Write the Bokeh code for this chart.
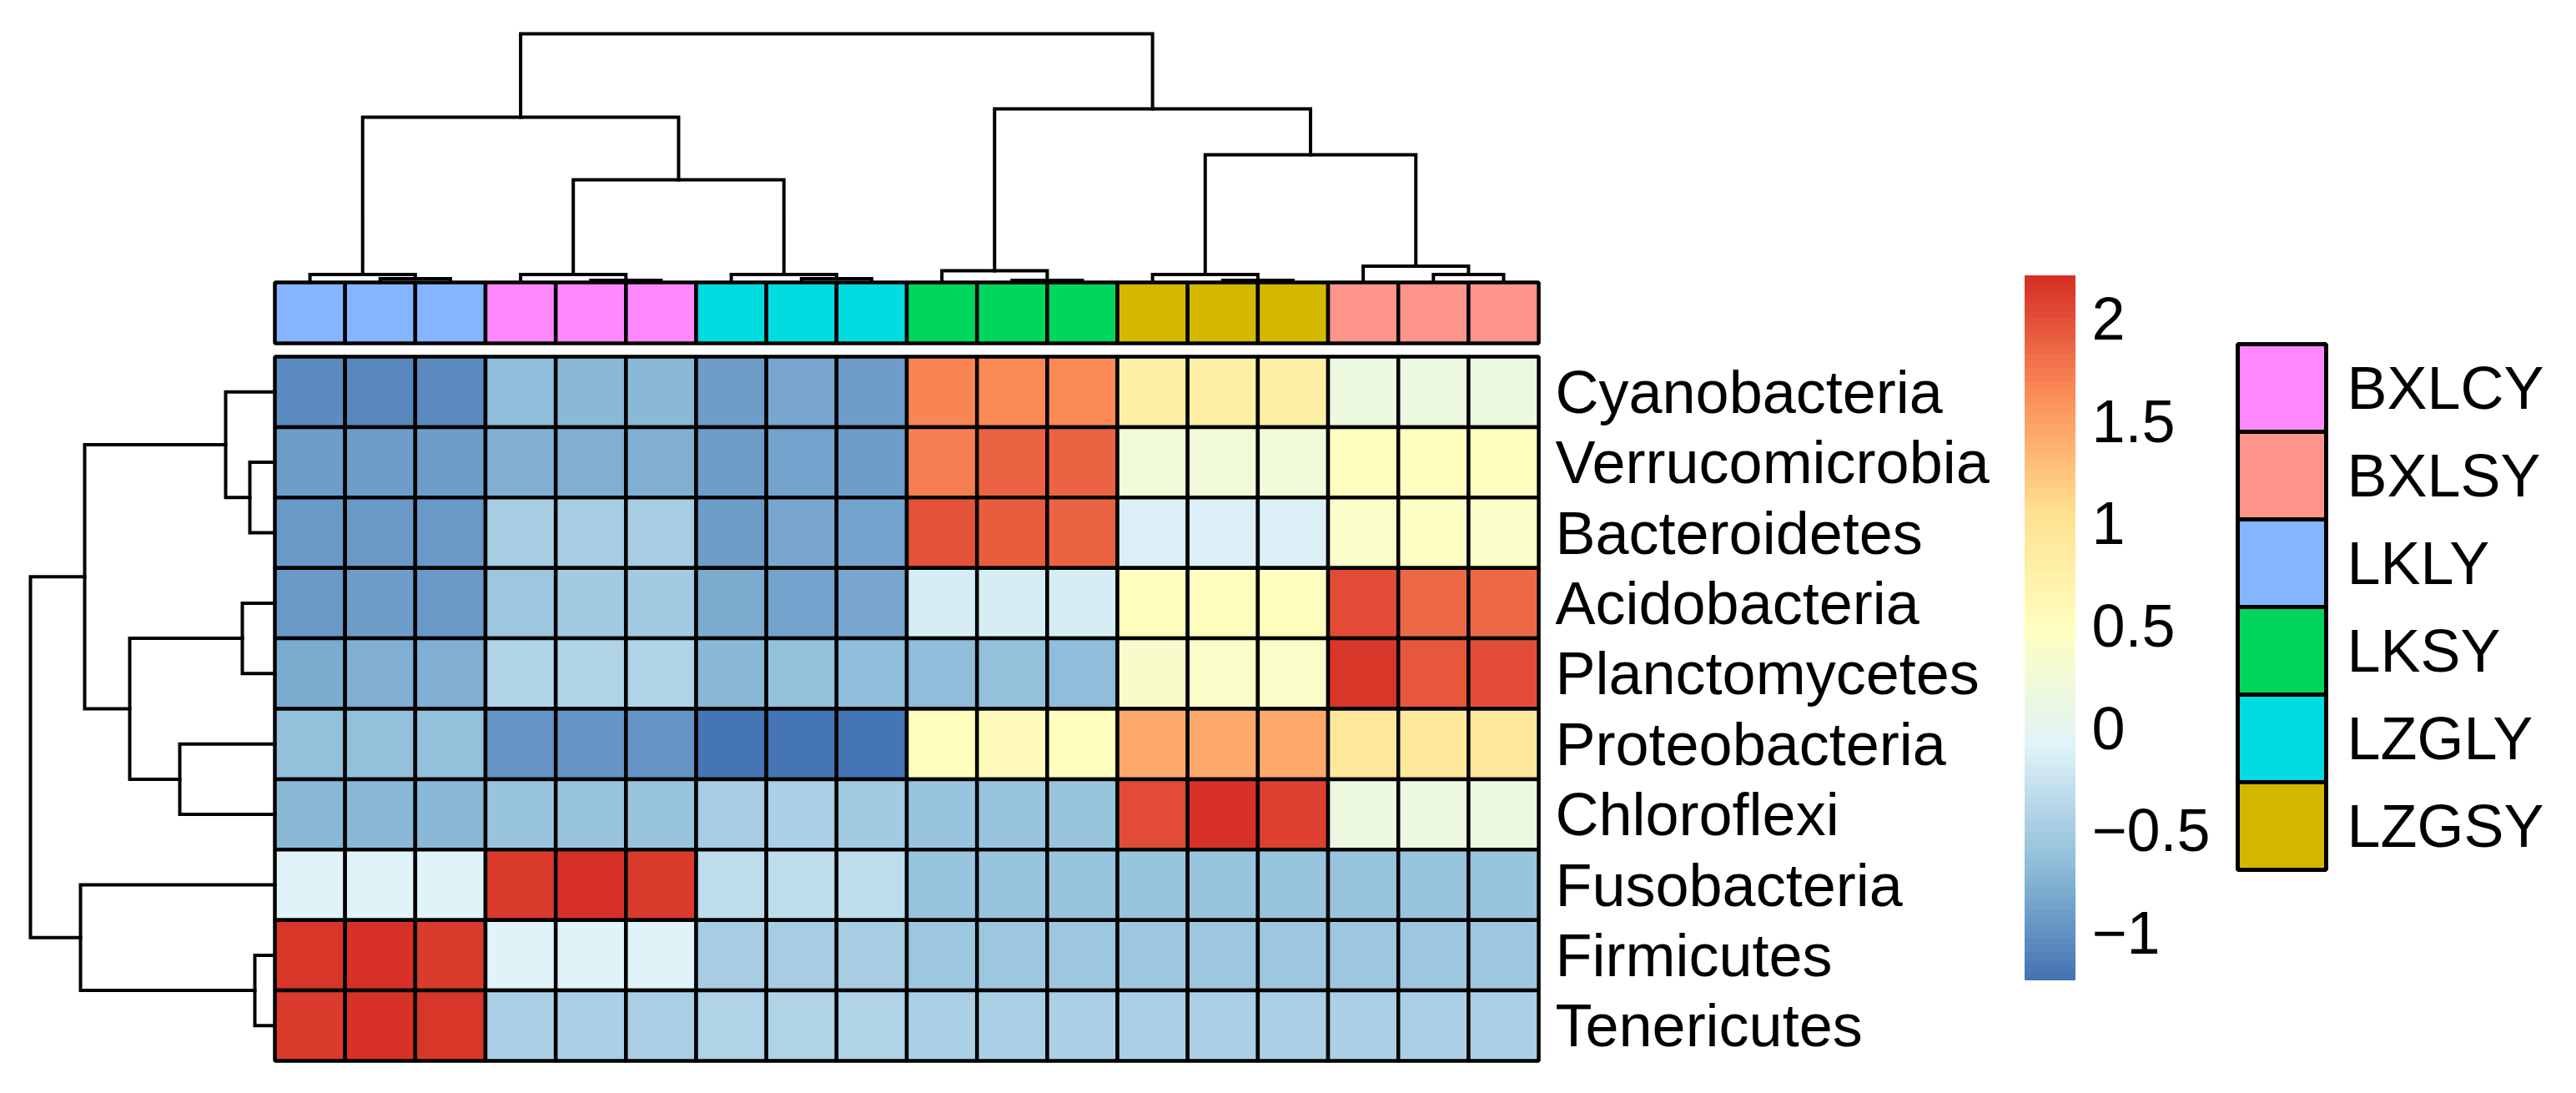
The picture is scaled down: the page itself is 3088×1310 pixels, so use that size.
import numpy as np
from bokeh.plotting import figure
from bokeh.models import Range1d, ColumnDataSource, LinearColorMapper
from bokeh.transform import transform
from bokeh.embed import file_html
from bokeh.resources import INLINE
from bokeh.core.properties import value

# ---------------- data ----------------
phyla = ["Cyanobacteria", "Verrucomicrobia", "Bacteroidetes", "Acidobacteria",
         "Planctomycetes", "Proteobacteria", "Chloroflexi", "Fusobacteria",
         "Firmicutes", "Tenericutes"]

col_groups = ["LKLY"] * 3 + ["BXLCY"] * 3 + ["LZGLY"] * 3 + ["LKSY"] * 3 + ["LZGSY"] * 3 + ["BXLSY"] * 3

group_levels = ["BXLCY", "BXLSY", "LKLY", "LKSY", "LZGLY", "LZGSY"]
group_colors = ["#FF88FF", "#FF948A", "#85B5FF", "#00D65C", "#00DCE0", "#D4B800"]

row_cyanobacteria = [-1.05, -1.06, -1.05, -0.66, -0.70, -0.70, -0.90, -0.82, -0.90, 1.68, 1.65, 1.65, 0.77, 0.77, 0.77, 0.18, 0.18, 0.18]
row_verrucomicrobia = [-0.92, -0.91, -0.92, -0.78, -0.76, -0.78, -0.90, -0.86, -0.92, 1.70, 1.88, 1.88, 0.24, 0.24, 0.24, 0.52, 0.52, 0.52]
row_bacteroidetes = [-0.95, -0.95, -0.94, -0.48, -0.48, -0.48, -0.90, -0.84, -0.87, 1.98, 1.92, 1.90, -0.10, -0.10, -0.10, 0.42, 0.43, 0.42]
row_acidobacteria = [-0.93, -0.92, -0.93, -0.55, -0.54, -0.53, -0.80, -0.86, -0.84, -0.16, -0.16, -0.16, 0.50, 0.50, 0.50, 2.02, 1.86, 1.86]
row_planctomycetes = [-0.79, -0.78, -0.77, -0.42, -0.42, -0.42, -0.68, -0.64, -0.67, -0.65, -0.64, -0.65, 0.38, 0.40, 0.40, 2.16, 1.96, 2.02]
row_proteobacteria = [-0.64, -0.64, -0.63, -0.97, -0.97, -0.96, -1.22, -1.23, -1.22, 0.52, 0.53, 0.52, 1.43, 1.43, 1.43, 0.92, 0.92, 0.91]
row_chloroflexi = [-0.71, -0.71, -0.70, -0.58, -0.58, -0.58, -0.50, -0.47, -0.52, -0.58, -0.59, -0.58, 2.02, 2.21, 2.08, 0.18, 0.18, 0.18]
row_fusobacteria = [-0.08, -0.08, -0.08, 2.12, 2.18, 2.14, -0.33, -0.33, -0.33, -0.60, -0.60, -0.60, -0.60, -0.60, -0.60, -0.60, -0.60, -0.60]
row_firmicutes = [2.16, 2.18, 2.12, -0.08, -0.08, -0.08, -0.48, -0.48, -0.48, -0.57, -0.57, -0.57, -0.57, -0.57, -0.57, -0.57, -0.57, -0.57]
row_tenericutes = [2.12, 2.20, 2.17, -0.45, -0.45, -0.45, -0.43, -0.42, -0.41, -0.45, -0.45, -0.45, -0.45, -0.45, -0.45, -0.45, -0.45, -0.45]

values = [row_cyanobacteria, row_verrucomicrobia, row_bacteroidetes, row_acidobacteria,
          row_planctomycetes, row_proteobacteria, row_chloroflexi, row_fusobacteria,
          row_firmicutes, row_tenericutes]

# hierarchical clustering merges (scipy convention: id < n is a leaf, id >= n is merge id-n)
col_merge_a = [1, 0, 4, 3, 7, 6, 10, 9, 13, 12, 16, 15, 21, 19, 27, 25, 31]
col_merge_b = [2, 18, 5, 20, 8, 22, 11, 24, 14, 26, 17, 28, 23, 30, 29, 32, 33]
col_merge_h = [0.07, 0.17, 0.03, 0.17, 0.07, 0.17, 0.03, 0.26, 0.03, 0.17, 0.17, 0.37, 2.44, 3.94, 3.04, 4.14, 5.94]

row_merge_a = [1, 0, 3, 5, 12, 11, 8, 7, 15]
row_merge_b = [2, 10, 4, 6, 13, 14, 9, 16, 17]
row_merge_h = [0.60, 1.18, 0.78, 2.28, 3.48, 4.56, 0.48, 4.66, 5.86]

legend_ticks = [2, 1.5, 1, 0.5, 0, -0.5, -1]
legend_tick_labels = ["2", "1.5", "1", "0.5", "0", "\u22120.5", "\u22121"]

ramp_anchors = ["#4575B4", "#91BFDB", "#E0F3F8", "#FFFFBF", "#FEE090", "#FC8D59", "#D73027"]

# ---------------- layout constants (page pixels) ----------------
W, H = 3072, 1294
CW, CH = 84.17, 84.4          # cell size in px
X0, Y0 = 329, 427              # heatmap top-left in figure px

def ux(px):  # figure px -> data x
    return (px - X0) / CW

def uy(py):  # figure py -> data y
    return (py - Y0) / CH

FONT = value("Liberation Sans")
FS = value("72px")

# colour ramp (like colorRampPalette(...)(100))
def hex2rgb(h):
    return np.array([int(h[i:i + 2], 16) for i in (1, 3, 5)], dtype=float)

anchors = np.array([hex2rgb(c) for c in ramp_anchors])
palette = []
for t in np.linspace(0, 1, 100):
    pos = t * (len(anchors) - 1)
    i = min(int(np.floor(pos)), len(anchors) - 2)
    f = pos - i
    c = anchors[i] * (1 - f) + anchors[i + 1] * f
    palette.append("#%02X%02X%02X" % tuple(int(round(v)) for v in c))

vals = np.array(values)
vmin, vmax = vals.min(), vals.max()
mapper = LinearColorMapper(palette=palette, low=vmin, high=vmax)

p = figure(width=W, height=H, output_backend="svg", toolbar_location=None,
           x_axis_location=None, y_axis_location=None, min_border=0,
           x_range=Range1d(-X0 / CW, (W - X0) / CW),
           y_range=Range1d((H - Y0) / CH, -Y0 / CH))
p.grid.visible = False
p.outline_line_color = None
p.background_fill_color = "white"

LW = 4.5

# ---------------- heatmap ----------------
nr, nc = vals.shape
rr, cc = np.meshgrid(np.arange(nr), np.arange(nc), indexing="ij")
src = ColumnDataSource(dict(left=cc.ravel(), right=cc.ravel() + 1,
                            top=rr.ravel(), bottom=rr.ravel() + 1,
                            v=vals.ravel()))
p.quad(left="left", right="right", top="top", bottom="bottom", source=src,
       fill_color=transform("v", mapper), line_color="black", line_width=LW)

# ---------------- annotation row ----------------
ann_top, ann_bot = uy(346 - 8), uy(419 - 8)
ann_col = [group_colors[group_levels.index(g)] for g in col_groups]
p.quad(left=list(range(nc)), right=[i + 1 for i in range(nc)],
       top=[ann_top] * nc, bottom=[ann_bot] * nc,
       fill_color=ann_col, line_color="black", line_width=LW)

# ---------------- dendrograms ----------------
def dendro(n, a, b, h):
    pos = {i: i + 0.5 for i in range(n)}
    hh = {i: 0.0 for i in range(n)}
    segs = []
    for k, (ia, ib, hk) in enumerate(zip(a, b, h)):
        nid = n + k
        segs.append(([pos[ia], pos[ia], pos[ib], pos[ib]], [hh[ia], hk, hk, hh[ib]]))
        pos[nid] = (pos[ia] + pos[ib]) / 2
        hh[nid] = hk
    return segs

# column dendrogram (top)
col_base = uy(345 - 8)
col_span = col_base - uy(48 - 8)
col_scale = col_span / max(col_merge_h)
segs = dendro(nc, col_merge_a, col_merge_b, col_merge_h)
p.multi_line(xs=[s[0] for s in segs],
             ys=[[col_base - v * col_scale for v in s[1]] for s in segs],
             line_color="black", line_width=4, line_join="miter", line_cap="square")

# row dendrogram (left)
row_span = 0 - ux(44 - 8)
row_scale = row_span / max(row_merge_h)
segs = dendro(nr, row_merge_a, row_merge_b, row_merge_h)
p.multi_line(xs=[[-v * row_scale for v in s[1]] for s in segs],
             ys=[s[0] for s in segs],
             line_color="black", line_width=4, line_join="miter", line_cap="square")

# ---------------- row labels ----------------
p.text(x=[ux(1872 - 8)] * nr, y=[i + 0.5 for i in range(nr)], text=phyla,
       text_font=FONT, text_font_size=FS, text_baseline="middle",
       text_align="left", text_color="black")

# ---------------- colour legend ----------------
cb_l, cb_r = ux(2435 - 8), ux(2495 - 8)
cb_t, cb_b = uy(338 - 8), uy(1182 - 8)
nb = len(palette)
edges = np.linspace(cb_b, cb_t, nb + 1)
p.quad(left=[cb_l] * nb, right=[cb_r] * nb, bottom=edges[:-1], top=edges[1:],
       fill_color=palette, line_color=palette, line_width=1)

def cb_y(v):
    return cb_b + (v - vmin) / (vmax - vmin) * (cb_t - cb_b)

p.text(x=[ux(2515 - 8)] * len(legend_ticks), y=[cb_y(v) for v in legend_ticks],
       text=legend_tick_labels, text_font=FONT, text_font_size=FS,
       text_baseline="middle", text_align="left", text_color="black")

# ---------------- group legend ----------------
lg_l, lg_r = ux(2690 - 8), ux(2796 - 8)
lg_t = uy(420 - 8)
lg_h = 105.0 / CH
ng = len(group_levels)
p.quad(left=[lg_l] * ng, right=[lg_r] * ng,
       top=[lg_t + k * lg_h for k in range(ng)],
       bottom=[lg_t + (k + 1) * lg_h for k in range(ng)],
       fill_color=group_colors, line_color="black", line_width=5)
p.text(x=[ux(2821 - 8)] * ng, y=[lg_t + (k + 0.5) * lg_h for k in range(ng)],
       text=group_levels, text_font=FONT, text_font_size=FS,
       text_baseline="middle", text_align="left", text_color="black")

open("out.html", "w").write(file_html(p, INLINE))
